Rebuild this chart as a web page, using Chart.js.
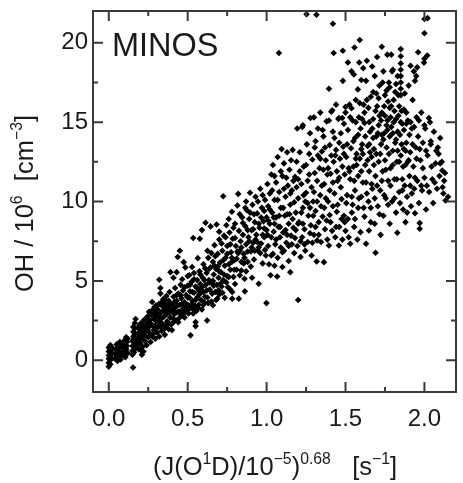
<!DOCTYPE html>
<html>
<head>
<meta charset="utf-8">
<title>MINOS</title>
<script src="https://cdn.jsdelivr.net/npm/chart.js@4"></script>
<style>
html, body { margin: 0; padding: 0; background: #fff; }
canvas { display: block; filter: blur(0.45px); }
</style>
</head>
<body>
<canvas id="scatter" width="463" height="483"></canvas>
<script>
// values, [x, y]
const xMajorTicks = [0, 0.5, 1, 1.5, 2];
const xMinorTicks = [0.25, 0.75, 1.25, 1.75];
const yMajorTicks = [0, 5, 10, 15, 20];
const yMinorTicks = [2.5, 7.5, 12.5, 17.5];

const lowPoints = [
[0,-.4],[0,-.15],[0,.1],[0,.3],[0,.55],[0,.8],[.01,-.25],[.01,.05],[.01,.35],[.01,.7],[.01,.95],[.02,.1],[.02,.45],[.025,.75],
[.04,.1],[.04,.4],[.045,.7],[.05,.25],[.05,1],[.055,-.05],[.06,.55],[.065,.3],[.07,.8],[.07,1.15],[.075,.05],[.08,.5],[.085,.95],[.09,.3],
[.095,.75],[.1,1.25],[.1,.5],[.105,1],[.105,.2],[.11,1.45],[.11,.7],[.115,1.15],[.115,.9],[.12,.45],[.12,1.35],
[.154,-.46],[.15,.35],[.15,.6],[.15,.9],[.15,1.2],[.155,1.5],[.155,1.8],[.155,2.1],[.16,.5],[.16,1],[.16,1.35],[.165,1.65],[.165,2],[.165,2.35],[.17,2.6],[.17,.75],[.17,1.15],
[.185,1],[.185,1.4],[.185,1.7],[.185,2.05],[.19,.7],[.19,1.25],[.195,1.55],[.195,2.2],[.2,1.05],[.2,1.9],[.205,2.35],[.205,.6],[.21,1.35],[.21,.35],[.215,.85],[.215,1.7],[.22,.55],[.22,2.1],
[.225,2.55],[.23,1.2],[.23,1.55],[.235,1.85],[.24,2.3],[.24,.95],[.245,2.75],[.25,1.45],[.25,2.05],[.255,3.05],[.26,1.7],[.26,2.5],[.265,1.15],[.27,2.25],[.27,2.85],[.275,3.67],[.275,1.5],[.28,3.2],[.285,1.9],[.285,2.6],[.29,2.15],[.295,3],[.295,1.35],[.3,3.45],[.3,2.45],[.305,1.75],[.31,2.8],[.31,3.2],[.315,2.1],[.32,1.5],[.32,3.55]
];

const risingPoints = [
[.32,5.07],[.327,4.55],[.327,4.2],[.325,2.6],[.33,3],[.335,1.85],[.34,3.4],[.34,2.3],[.345,3.85],[.35,2.75],[.35,3.15],[.355,1.6],[.36,3.55],[.36,2.1],[.365,4.05],[.37,2.95],[.37,2.45],[.375,3.3],[.38,3.75],[.38,1.95],[.385,4.3],[.39,2.7],[.391,5.55],[.395,3.1],[.4,3.5],[.4,1.9],[.405,2.35],[.41,4],[.41,5.2],[.415,2.9],[.42,3.3],[.42,4.55],[.425,2.5],[.43,3.75],[.43,5.55],[.437,6.5],[.44,4.2],[.44,3.05],[.445,2.65],[.45,6.9],[.45,3.5],[.455,4.75],[.46,3.9],[.46,2.85],[.465,5.1],[.47,3.25],[.47,4.4],[.475,6.18],[.48,2.7],[.48,3.65],[.485,5.85],[.49,4.1],[.495,3.1],[.5,4.7],[.5,3.5],[.505,2.95],[.51,3.95],[.51,5.35],[.515,4.35],[.518,1.57],[.52,3.3],[.525,4.95],[.528,5.87],[.53,3.75],[.535,7.7],[.535,2.95],[.54,4.25],[.54,5.5],[.545,3.45],[.55,2.4],[.55,2.15],[.55,4.65],[.555,3.1],[.56,3.95],[.56,5.05],[.564,6.43],[.57,4.4],[.57,3.5],[.575,5.6],[.577,7.65],[.58,4.8],[.585,3.8],[.59,8.2],[.59,3.2],[.595,5.2],[.6,4.3],[.6,6.05],[.605,3.65],[.613,8.66],[.615,4.75],[.62,5.5],[.623,2.5],[.625,3.95],[.63,6.45],[.635,5.05],[.64,4.45],[.645,8.43],[.645,5.85],[.65,3.7],[.655,4.9],[.66,3.46],[.66,6.2],[.665,5.4],[.67,7.25],[.675,4.3],[.68,5.75],[.683,8.55],[.685,4.75],[.687,3.88],[.69,6.7],[.695,5.2],[.7,7.6],[.7,4.15],[.705,6.15],[.71,5.55],[.715,4.65],[.72,6.9],[.725,10.33],[.725,5.05],[.73,7.85],[.735,3.94],[.735,5.95],[.74,6.45],[.745,8.5],[.75,5.3],[.75,7.2],[.755,4.6],[.76,6.05],[.765,8.05],[.77,5.7],[.775,6.8],[.78,9.35],[.782,4.3],[.782,3.88],[.785,7.65],[.79,5.25],[.795,6.3],[.8,8.6],[.805,7.2],[.81,5.7],[.815,9.75],[.82,10.48],[.82,6.75],[.824,3.88],[.825,8.15],[.83,5.35],[.835,7.5],[.84,6.2],[.845,9],[.85,7.9],[.855,6.7],[.86,5.13],[.862,4.34],[.865,8.45],[.87,10],[.87,7.3],[.875,9.45],[.88,6.2],[.885,7.75],[.89,8.9],[.895,10.55],[.9,6.85],[.905,8.2],[.908,5.2],[.91,9.8],[.915,7.4],[.92,6.35],[.925,8.7],[.93,10.3],[.935,7.9],[.94,9.25],[.945,6.9],[.95,4.82],[.955,8.35],[.96,10.8],[.965,7.35],[.97,9.6],[.975,6.1],[.98,8.75],[.985,7.75],[.99,10.1],[.995,6.6],[.999,3.6]
];

const middlePoints = [
[1,9],[1,8.2],[1.005,11.1],[1.01,7.2],[1.01,9.7],[1.015,6.05],[1.02,10.5],[1.02,8.6],[1.025,5.35],[1.03,7.75],[1.03,11.7],[1.035,9.3],[1.04,6.7],[1.04,12.3],[1.045,8.1],[1.05,10.1],[1.05,5.95],[1.055,7.3],[1.06,11.2],[1.06,9],[1.067,5.28],[1.07,12.8],[1.07,6.45],[1.075,8.4],[1.078,19.35],[1.08,10.6],[1.085,7.75],[1.09,9.6],[1.095,13.3],[1.1,5.87],[1.1,11.6],[1.105,8.05],[1.11,6.9],[1.11,12.4],[1.115,9.1],[1.12,10.3],[1.125,7.4],[1.13,13.1],[1.135,11],[1.14,6.25],[1.14,8.6],[1.145,12],[1.15,5.55],[1.15,9.8],[1.155,7.85],[1.16,10.7],[1.165,13.25],[1.17,8.35],[1.175,6.75],[1.18,11.55],[1.185,9.3],[1.19,12.5],[1.195,7.2],[1.2,3.8],[1.2,10.2],[1.205,8.7],[1.21,13.1],[1.215,6.5],[1.22,11.1],[1.225,7.75],[1.23,14.8],[1.23,9.6],[1.235,12.2],[1.24,8.25],[1.245,6.9],[1.25,10.55],[1.253,21.8],[1.255,13.6],[1.26,7.45],[1.265,9.1],[1.27,11.7],[1.275,14.3],[1.28,8.5],[1.285,6.6],[1.29,12.65],[1.295,10],[1.3,15.3],[1.3,7.9],[1.305,13.4],[1.31,9.4],[1.316,21.76],[1.317,6.22],[1.32,7.55],[1.32,11.3],[1.325,14.6],[1.33,8.7],[1.335,12.1],[1.34,15.6],[1.34,10.4],[1.345,7.45],[1.35,13.15],[1.355,9.05],[1.36,14.1],[1.363,6.18],[1.365,11.1],[1.37,8.25],[1.375,12.6],[1.38,15.05],[1.385,7.6],[1.39,10],[1.395,17.1],[1.395,7.23],[1.4,13.55],[1.4,9.15],[1.405,11.75],[1.41,15.65],[1.415,8.15],[1.42,21.2],[1.42,14.4],[1.425,19.35],[1.425,12.5],[1.43,10.5],[1.435,7.75],[1.44,16.1],[1.44,13.25],[1.445,9.35],[1.45,11.3],[1.455,15.2],[1.458,7.23],[1.46,8.4],[1.465,12.7],[1.47,14.3],[1.475,10.15],[1.48,7.6],[1.483,19.5],[1.483,17.6],[1.485,13.45],[1.49,9.1],[1.495,11.7],[1.5,15.6],[1.5,8.15]
];

const upperPoints = [
[1.505,12.8],[1.51,10.4],[1.515,18.76],[1.515,14.5],[1.52,7.75],[1.525,16.1],[1.53,7.34],[1.53,11.4],[1.535,13.35],[1.538,18.2],[1.54,9.3],[1.545,15.1],[1.55,12.2],[1.553,18],[1.555,8.4],[1.557,19.7],[1.56,10.7],[1.56,14],[1.565,16.4],[1.57,13],[1.575,7.6],[1.578,17.06],[1.58,11.6],[1.58,9.6],[1.585,15.3],[1.587,18.76],[1.59,20.17],[1.59,12.7],[1.595,8.07],[1.595,14.6],[1.6,10.3],[1.6,17.65],[1.605,13.6],[1.61,11.2],[1.612,18.4],[1.615,16.1],[1.62,9.05],[1.62,14.95],[1.625,12.3],[1.63,7.34],[1.63,17.6],[1.635,18.87],[1.635,10.5],[1.64,13.5],[1.645,15.9],[1.648,8.17],[1.65,11.9],[1.655,14.4],[1.66,9.6],[1.66,16.6],[1.665,12.8],[1.669,18.5],[1.67,10.8],[1.675,15.2],[1.68,13.3],[1.685,8.6],[1.685,17.9],[1.69,6.77],[1.69,11.6],[1.695,14.1],[1.7,19.1],[1.7,16],[1.705,9.7],[1.71,12.5],[1.71,14.8],[1.715,17.3],[1.72,10.7],[1.722,7.9],[1.725,13.6],[1.73,19.75],[1.73,15.6],[1.735,11.9],[1.74,9.1],[1.74,18.2],[1.745,14.3],[1.75,16.7],[1.75,12.6],[1.755,10.2],[1.76,13.4],[1.765,19.25],[1.765,15.1],[1.77,11.3],[1.775,17.5],[1.78,8.6],[1.78,14.1],[1.785,12.1],[1.79,19.25],[1.79,16],[1.795,10],[1.8,13.2],[1.8,18.3],[1.805,15],[1.81,11.4],[1.815,16.9],[1.82,9.3],[1.82,13.9],[1.825,12.5],[1.828,8.03],[1.83,17.9],[1.835,15.4],[1.84,10.6],[1.845,14.2],[1.85,19.6],[1.85,19.15],[1.85,18.7],[1.85,18.3],[1.85,17.9],[1.85,17.5],[1.85,17.1],[1.85,16.7],[1.85,12.9],[1.855,15.7],[1.86,11.4],[1.865,9.5],[1.87,14.5],[1.875,16.8],[1.88,8.7],[1.88,12.3],[1.885,13.7],[1.89,10.3],[1.895,15.1],[1.9,17.3],[1.905,11.6],[1.91,13.1],[1.912,18.55],[1.915,9.7],[1.92,14.6],[1.925,16.4],[1.93,12.2],[1.933,18.2],[1.935,10.8],[1.94,9.26],[1.94,17.6],[1.945,13.4],[1.948,17.9],[1.95,15.3],[1.954,18.45],[1.955,11.3],[1.96,19.4],[1.96,14.1],[1.965,9.9],[1.97,8.64],[1.97,8.28],[1.975,12.6],[1.98,15.6],[1.985,10.7],[1.99,13.7],[1.997,18.75],[2,21.5],[2,20.6],[2,19],[2,11.5],[2.005,14.6],[2.01,9.5],[2.018,19.2],[2.02,21.55],[2.02,12.9],[2.03,10.6],[2.035,15],[2.04,13.8],[2.05,11.4],[2.055,9.9],[2.06,14.4],[2.07,12.4],[2.08,10.8],[2.085,13.4],[2.095,11.6],[2.1,14],[2.11,12.5],[2.12,10.5],[2.125,11.3],[2.134,10.06],[2.15,10.3]
];

const denseLowPoints = [
[.245,1.9],[.255,2.4],[.265,2.95],[.275,2.2],[.28,1.65],[.29,3.35],[.3,2.8],[.305,2.1],[.315,3.5],[.32,2.4],[.33,2.15],[.335,2.65],[.34,3.7],[.345,3.1],[.35,1.95],[.36,2.85],[.365,3.3],[.37,3.7],[.375,2.3],[.385,3.05],[.39,3.5],[.395,2.25],[.405,3.2],[.41,2.6],[.415,3.65],[.425,3],[.43,4.1],[.435,3.45],[.44,2.4],[.45,3.05],[.455,4.1],[.465,3.55],[.475,2.95],[.48,4.6],[.49,3.4],[.5,3.95],[.5,5.3],[.51,3.25],[.515,4.75],[.525,3.55],[.53,4.3],[.54,3.15],[.54,5.1],[.55,3.8],[.56,4.55],[.565,3.3],[.575,4.15],[.58,5.4],[.59,4.6],[.6,3.5],[.605,5.05],[.61,4],[.62,4.4],[.63,3.6],[.635,5.75],[.64,4.9],[.655,4.2],[.665,4.7],[.67,5.95],[.68,3.8],[.695,4.4],[.7,5.6],[.71,4.85],[.72,4.25],[.73,5.4],[.745,4.9],[.76,5.25],[.77,4.45],[.78,6.2],[.795,5.7],[.8,4.8],[.81,6.4],[.83,6.9],[.84,5.65],[.855,6.1],[.87,5.6],[.88,6.85],[.89,7.5],[.9,5.9],[.915,8.25],[.925,6.9],[.94,7.45],[.95,8.6],[.96,6.75],[.975,7.9],[.985,9.4],[.99,6.95]
];

const denseUpperPoints = [
[1.005,7.9],[1.02,9.5],[1.03,6.6],[1.045,9],[1.05,11.6],[1.06,7.6],[1.07,10.1],[1.085,8.4],[1.09,11.9],[1.1,6.8],[1.105,9.6],[1.12,8.2],[1.125,11.5],[1.13,9.2],[1.14,7.2],[1.15,10.5],[1.155,12.6],[1.165,8.9],[1.175,9.95],[1.18,7.7],[1.19,10.9],[1.194,14.6],[1.2,8.6],[1.21,11.9],[1.22,9.3],[1.226,14.7],[1.235,10.4],[1.24,7.3],[1.25,12.3],[1.26,9.9],[1.27,13],[1.275,8],[1.278,15.26],[1.285,10.9],[1.295,9.1],[1.305,11.8],[1.31,13.8],[1.32,10],[1.33,7.9],[1.34,12.7],[1.35,11],[1.355,14.5],[1.365,9.6],[1.37,13.4],[1.38,8.8],[1.385,11.7],[1.395,15.1],[1.4,10.7],[1.41,12.9],[1.416,15.75],[1.42,9.7],[1.43,14],[1.44,8.4],[1.445,11.9],[1.458,15.26],[1.46,13.7],[1.47,10.9],[1.479,15.26],[1.48,12.2],[1.49,14.9],[1.495,8.7],[1.5,15.96],[1.51,13.6],[1.515,8.9],[1.52,12.1],[1.53,15.3],[1.538,15.87],[1.54,10.3],[1.55,13.8],[1.555,11.3],[1.56,8.9],[1.565,15],[1.57,12.3],[1.58,14.2],[1.585,10.2],[1.59,16.2],[1.6,11.9],[1.605,15.2],[1.61,13],[1.615,9.6],[1.625,14.1],[1.63,11.2],[1.635,16.4],[1.64,12.6],[1.645,10],[1.65,15],[1.655,13.1],[1.66,8.7],[1.665,11.1],[1.67,14.6],[1.675,16.9],[1.68,12.3],[1.685,10.2],[1.69,15.7],[1.695,13],[1.7,11],[1.705,14.3],[1.71,16.5],[1.715,9.2],[1.72,13],[1.725,15.1],[1.73,11.3],[1.735,17.5],[1.74,13.9],[1.745,10.4],[1.75,15.4],[1.755,12],[1.76,17],[1.765,14.5],[1.77,9.8],[1.775,13],[1.78,15.9],[1.785,11],[1.79,14.7],[1.795,18.2],[1.8,12.3],[1.805,16.4],[1.81,10.2],[1.815,13.7],[1.82,15.2],[1.825,11.4],[1.83,14.4],[1.835,16.7],[1.84,12.5],[1.845,9.9],[1.85,15],[1.855,13.6],[1.86,10.7],[1.865,12.2],[1.87,15.8],[1.875,11],[1.88,13.2],[1.885,14.9],[1.89,9.3],[1.9,12.6],[1.905,14.2],[1.912,15],[1.92,10.5],[1.925,13.6],[1.935,14.7],[1.94,11.5],[1.95,12.7],[1.965,15.1],[1.97,13.3],[1.98,11],[1.99,12.1],[2,14.8],[2.01,13.2],[2.015,11],[2.028,15.26],[2.04,13.6],[2.045,12.2],[2.065,11.2],[2.075,13.2],[2.09,13],[2.1,12.4],[2.113,11.95],[2.115,10.9],[2.13,11.8]
];

const fillPoints = [
[.61,5.8],[.625,6.9],[.65,6.75],[.66,5],[.675,6.55],[.69,5.9],[.7,8.1],[.715,7.35],[.725,6.3],[.74,7.75],[.75,6.7],[.76,8.9],[.77,7.3],[.78,6.45],[.79,8.35],[.8,7.7],[.815,6.85],[.83,9.2],[.84,7.1],[.85,8.65],[.86,6.45],[.865,9.6],[.88,8.2],[.895,9.3],[.905,7.1],[.92,9.2],[.93,7.6],[.945,10],[.95,7.1],[.965,9],[.975,10.4],[.985,8.3],[1.01,8.8],[1.035,10.7],[1.05,8.6],[1.08,9.1],[1.09,7.1],[1.11,10.8],[1.13,7.9],[1.145,9.2],[1.16,7.3],[1.17,11.3],[1.185,8.2],[1.2,11.4],[1.215,7.5],[1.23,8.6],[1.245,10],[1.26,11.3],[1.275,9.6],[1.29,7.4],[1.3,10.6],[1.31,8.4],[1.325,12.9],[1.345,9.7],[1.36,12],[1.375,10.2],[1.39,12.1],[1.405,8.7],[1.42,11.2],[1.435,12.9],[1.45,9.8],[1.46,11.5],[1.475,8.9],[1.49,13],[1.505,9.9],[1.525,11.9],[1.545,9.8],[1.565,12.7],[1.6,13.3],[1.62,15.6],[1.65,13.6],[1.675,14],[1.695,16.8],[1.715,15.4],[1.73,14.2],[1.745,16],[1.76,14.8],[1.77,16.3],[1.78,17.2],[1.785,15.3],[1.8,14.3],[1.81,15.7],[1.82,17.4],[1.83,13.2],[1.84,16],[1.86,14.9],[1.87,13.3],[1.885,15.6],[1.895,12.5],[1.91,11]
];

const allPoints = [...lowPoints, ...risingPoints, ...middlePoints, ...upperPoints, ...denseLowPoints, ...denseUpperPoints, ...fillPoints];

const inkColor = '#1a1a1a';
const frameColor = '#3a3a3a';

// pieces of text with raised parts, laid out left to right
function drawPieces(ctx, pieces, size) {
    let total = 0;
    for (const p of pieces) {
        ctx.font = (p.sup ? size * 0.62 : size) + 'px "Liberation Sans"';
        total += ctx.measureText(p.t).width;
    }
    let pos = -total / 2;
    for (const p of pieces) {
        ctx.font = (p.sup ? size * 0.62 : size) + 'px "Liberation Sans"';
        ctx.fillText(p.t, pos, p.sup ? -size * 0.42 : 0);
        pos += ctx.measureText(p.t).width;
    }
}

const framePlugin = {
    id: 'frame',
    afterDraw(chart) {
        const { ctx, chartArea: a, scales: { x, y } } = chart;
        ctx.save();
        ctx.strokeStyle = frameColor;
        ctx.lineWidth = 2;
        ctx.strokeRect(a.left, a.top, a.right - a.left, a.bottom - a.top);
        const tickX = (v, len) => {
            const p = x.getPixelForValue(v);
            ctx.moveTo(p, a.bottom); ctx.lineTo(p, a.bottom - len);
            ctx.moveTo(p, a.top); ctx.lineTo(p, a.top + len);
        };
        const tickY = (v, len) => {
            const p = y.getPixelForValue(v);
            ctx.moveTo(a.left, p); ctx.lineTo(a.left + len, p);
            ctx.moveTo(a.right, p); ctx.lineTo(a.right - len, p);
        };
        ctx.beginPath();
        xMajorTicks.forEach(v => tickX(v, 10));
        xMinorTicks.forEach(v => tickX(v, 5));
        yMajorTicks.forEach(v => tickY(v, 10));
        yMinorTicks.forEach(v => tickY(v, 5));
        ctx.stroke();

        ctx.fillStyle = inkColor;
        ctx.textBaseline = 'alphabetic';
        ctx.textAlign = 'left';
        ctx.font = '32.5px "Liberation Sans"';
        ctx.fillText('MINOS', 112, 56);

        ctx.translate(275, 475);
        drawPieces(ctx, [
            { t: '(J(O' }, { t: '1', sup: true }, { t: 'D)/10' }, { t: '\u22125', sup: true }, { t: ')' },
            { t: '0.68', sup: true }, { t: '   [s' }, { t: '\u22121', sup: true }, { t: ']' }
        ], 25.5);
        ctx.restore();

        ctx.save();
        ctx.fillStyle = inkColor;
        ctx.textBaseline = 'alphabetic';
        ctx.translate(33, 203.5);
        ctx.rotate(-Math.PI / 2);
        drawPieces(ctx, [
            { t: 'OH / 10' }, { t: '6', sup: true }, { t: '  [cm' }, { t: '\u22123', sup: true }, { t: ']' }
        ], 25.5);
        ctx.restore();
    }
};

const tickFont = { family: '"Liberation Sans"', size: 24 };

new Chart(document.getElementById('scatter'), {
    type: 'scatter',
    data: {
        datasets: [{
            data: allPoints.map(p => ({ x: p[0], y: p[1] })),
            pointStyle: 'rectRot',
            pointRadius: 3.3,
            backgroundColor: '#000',
            borderColor: '#000',
            borderWidth: 0
        }]
    },
    options: {
        responsive: false,
        animation: false,
        layout: { padding: { top: 11, right: 7, left: 0, bottom: 0 } },
        plugins: { legend: { display: false }, tooltip: { enabled: false } },
        scales: {
            x: {
                type: 'linear', min: -0.1, max: 2.2,
                grid: { display: false, drawTicks: false }, border: { display: false },
                afterBuildTicks: s => { s.ticks = xMajorTicks.map(v => ({ value: v })); },
                afterFit: s => { s.height = 91; s.paddingLeft = 0; s.paddingRight = 0; },
                ticks: {
                    color: inkColor, font: tickFont, padding: 13, maxRotation: 0,
                    callback: v => Number(v).toFixed(1)
                }
            },
            y: {
                type: 'linear', min: -2, max: 22,
                grid: { display: false, drawTicks: false }, border: { display: false },
                afterBuildTicks: s => { s.ticks = yMajorTicks.map(v => ({ value: v })); },
                afterFit: s => { s.width = 93; s.paddingTop = 0; s.paddingBottom = 0; },
                ticks: { color: inkColor, font: tickFont, padding: 5 }
            }
        }
    },
    plugins: [framePlugin]
});
</script>
</body>
</html>
